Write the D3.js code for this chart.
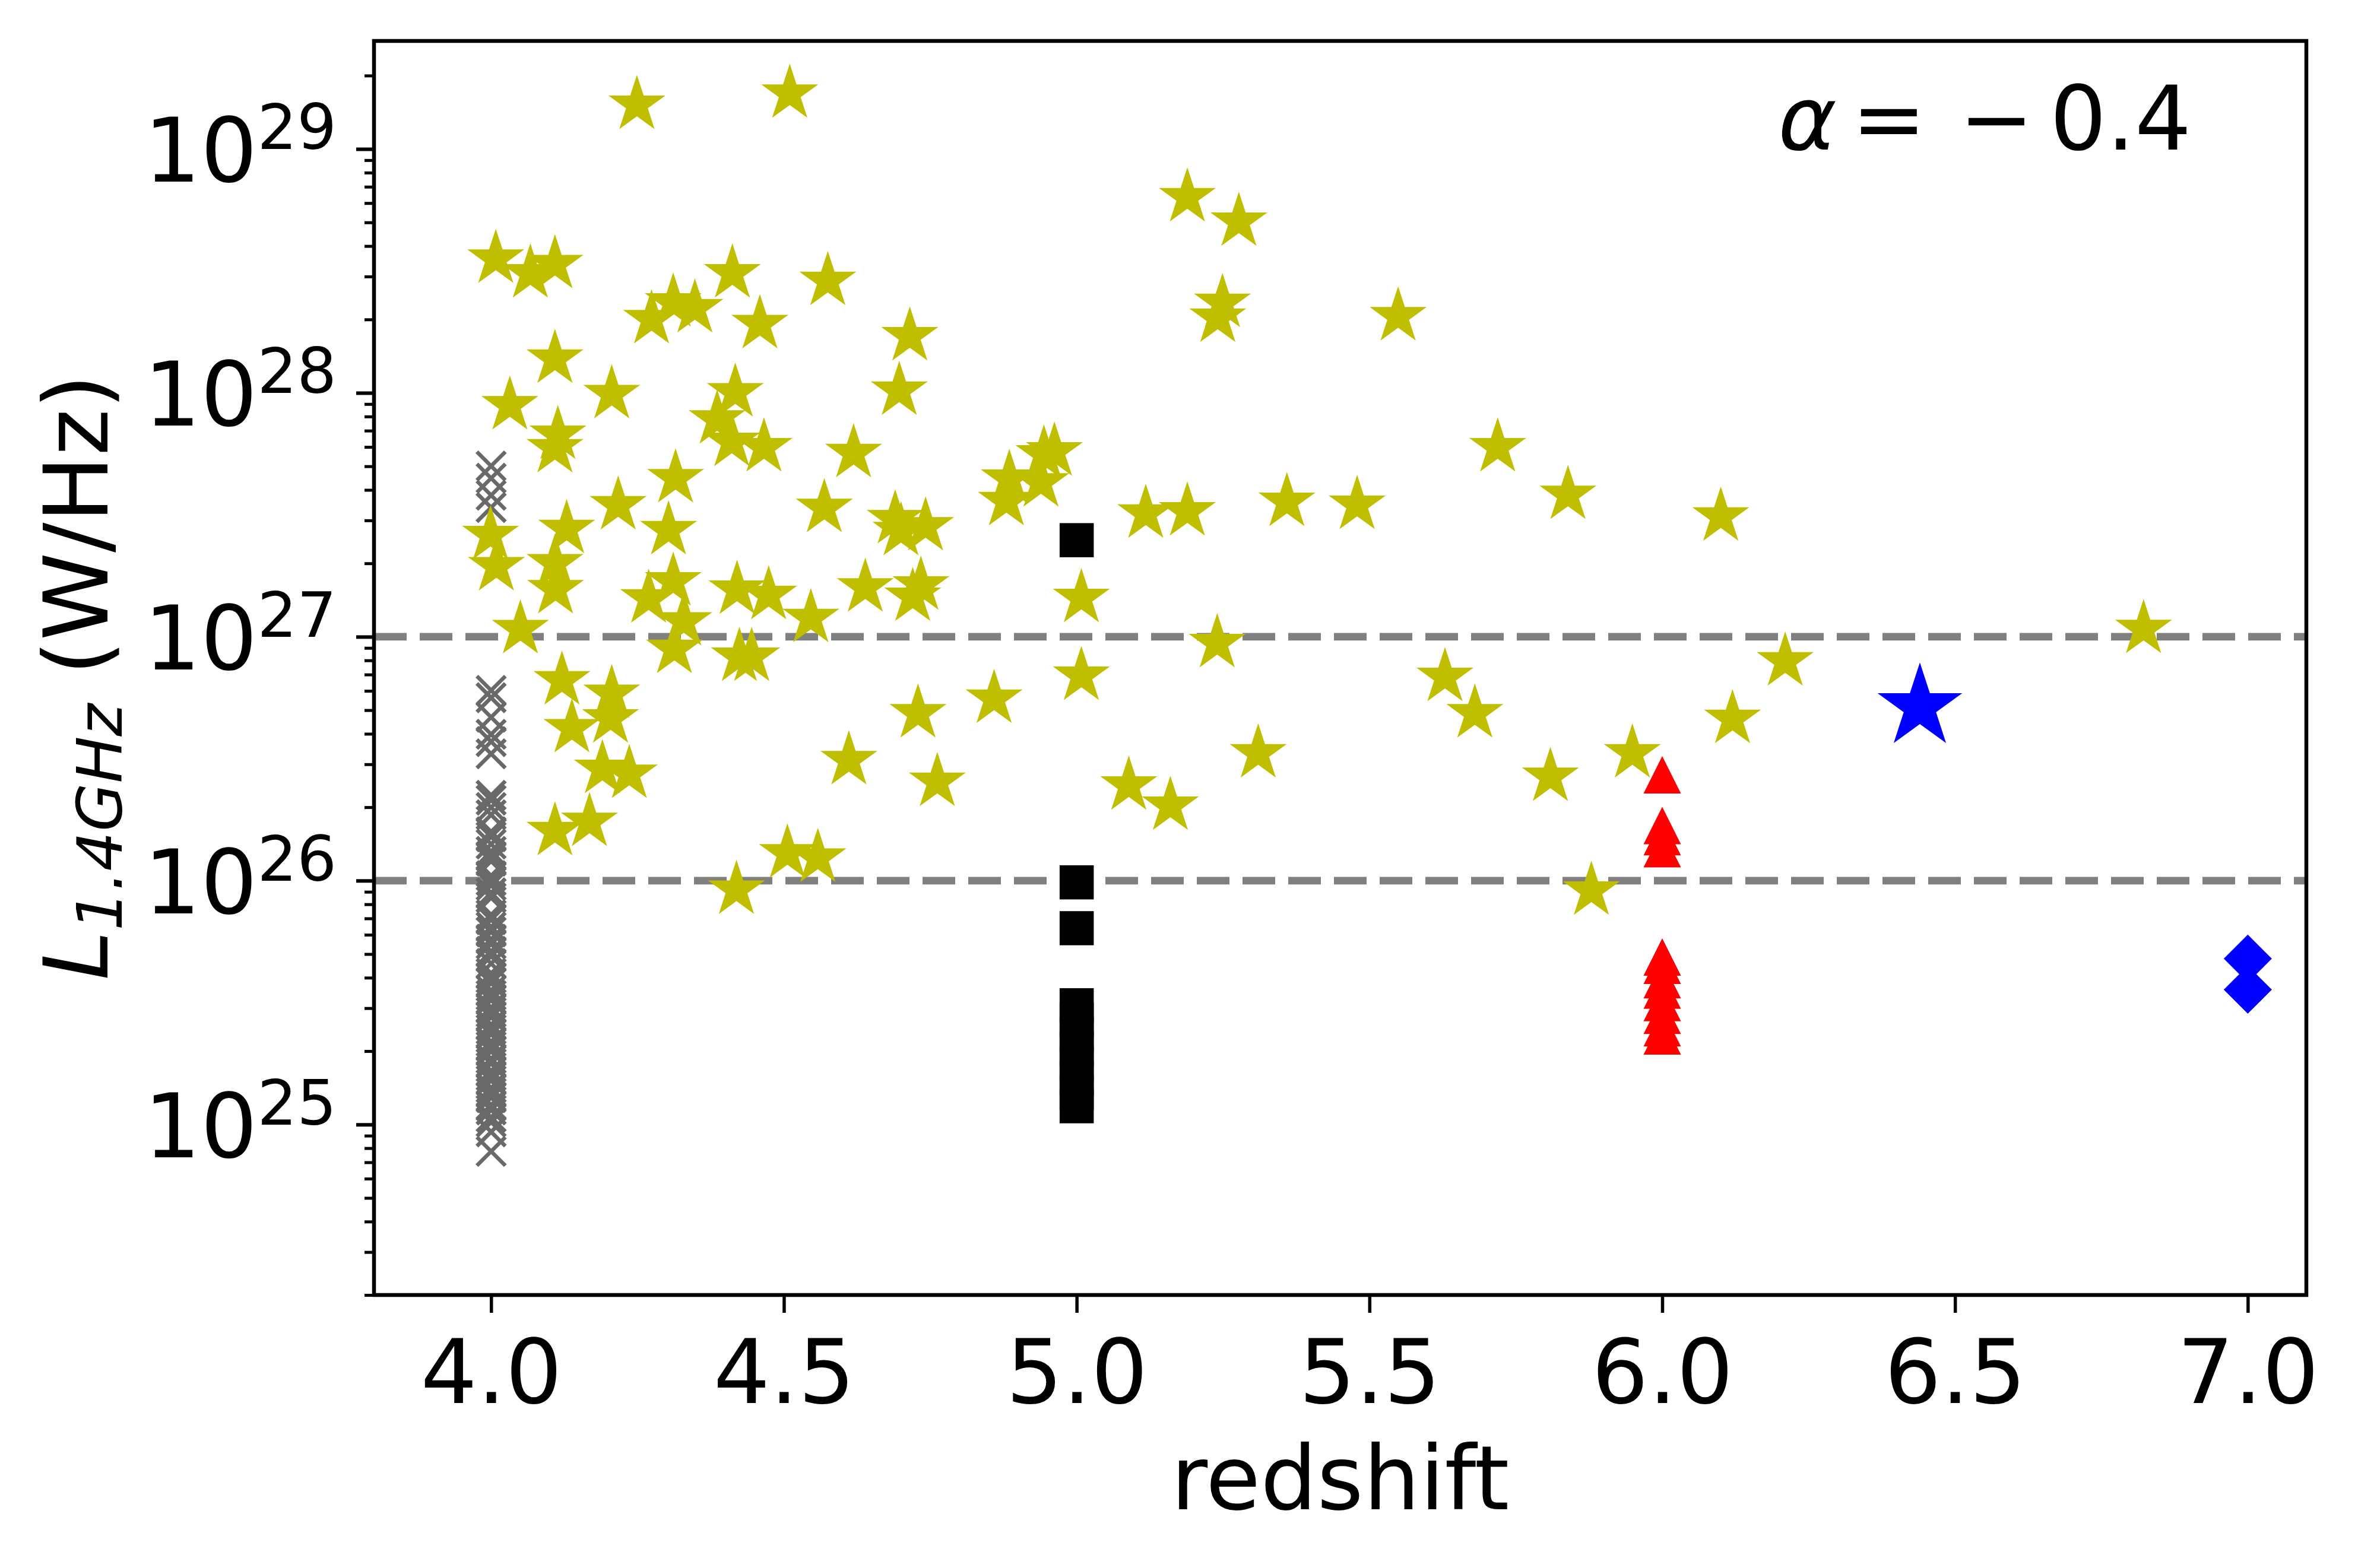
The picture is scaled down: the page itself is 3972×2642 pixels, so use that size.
<!DOCTYPE html>
<html>
<head>
<meta charset="utf-8">
<script src="https://cdn.jsdelivr.net/npm/d3@7"></script>
<style>
  body { margin: 0; background: #fff; }
  svg text { font-family: 'DejaVu Sans', sans-serif; fill: #000; }
</style>
</head>
<body>
<div id="chart"></div>
<script>
// values: [redshift, log10 L(1.4GHz) in W/Hz]
const yellowStars = [
    [4.249, 29.181], [4.510, 29.227], [4.008, 28.550], [4.067, 28.490], [4.109, 28.528],
    [4.311, 28.371], [4.274, 28.302], [4.348, 28.347], [4.412, 28.490], [4.459, 28.282],
    [4.575, 28.459], [4.715, 28.232], [4.697, 28.009], [4.109, 28.140], [4.206, 27.995],
    [4.032, 27.949], [4.417, 28.002], [4.386, 27.891], [4.411, 27.799], [4.466, 27.777],
    [4.114, 27.828], [4.109, 27.773], [4.619, 27.753], [4.315, 27.650], [4.217, 27.539],
    [4.303, 27.437], [4.569, 27.528], [4.690, 27.482], [4.742, 27.453], [4.700, 27.433],
    [4.885, 27.648], [4.880, 27.556], [4.129, 27.442], [3.999, 27.417], [4.009, 27.289],
    [4.109, 27.301], [4.110, 27.195], [4.050, 27.031], [4.311, 27.227], [4.269, 27.157],
    [4.329, 27.063], [4.313, 26.950], [4.420, 27.193], [4.474, 27.171], [4.546, 27.077],
    [4.639, 27.202], [4.734, 27.210], [4.720, 27.164], [4.424, 26.918], [4.445, 26.918],
    [4.121, 26.821], [4.206, 26.766], [4.859, 26.746], [4.729, 26.686], [4.138, 26.625],
    [4.204, 26.665], [4.190, 26.458], [4.236, 26.438], [4.109, 26.203], [4.168, 26.241],
    [4.419, 25.963], [4.506, 26.112], [4.558, 26.094], [4.611, 26.494], [4.762, 26.405],
    [5.189, 28.802], [5.277, 28.702], [5.249, 28.369], [5.241, 28.308], [5.549, 28.314],
    [5.719, 27.777], [5.839, 27.582], [5.359, 27.553], [5.479, 27.541], [5.118, 27.505],
    [5.189, 27.514], [4.962, 27.760], [4.944, 27.748], [4.939, 27.633], [5.008, 27.159],
    [5.240, 26.974], [5.008, 26.840], [5.629, 26.835], [5.680, 26.686], [5.089, 26.390],
    [5.160, 26.307], [5.310, 26.522], [5.809, 26.426], [5.949, 26.522], [5.879, 25.959],
    [6.100, 27.493], [6.822, 27.032], [6.210, 26.899], [6.120, 26.663]
];

const grayZ = 4.0;
const grayLogL = [
    27.70, 27.65, 27.58, 27.53,
    26.78, 26.75, 26.67, 26.60, 26.57, 26.52, 26.35, 26.33, 26.30, 26.27,
    26.20, 26.18, 26.15, 26.12, 26.10, 26.08, 26.02, 26.00, 25.98, 25.95,
    25.93, 25.86, 25.84, 25.81, 25.79, 25.76, 25.74, 25.71, 25.69, 25.66,
    25.62, 25.60, 25.58, 25.55, 25.53, 25.51, 25.48, 25.46, 25.44, 25.41,
    25.39, 25.37, 25.34, 25.32, 25.30, 25.27, 25.25, 25.22, 25.20, 25.18,
    25.15, 25.13, 25.11, 25.08, 25.06, 25.03, 25.01, 24.97, 24.89
];

const blackZ = 5.0;
const blackLogL = [27.396, 25.993, 25.805, 25.489, 25.43, 25.37, 25.31, 25.25, 25.19, 25.13, 25.075];

const redZ = 6.0;
const redLogL = [26.434, 26.226, 26.18, 26.131, 25.687, 25.653, 25.594, 25.551, 25.500, 25.448, 25.397, 25.363];

const blueStars = [[6.440, 26.712]];
const blueDiamonds = [[7.0, 25.680], [7.0, 25.553]];

const refLinesLogL = [27, 26];
const xTicks = [4.0, 4.5, 5.0, 5.5, 6.0, 6.5, 7.0];
const yMajorExp = [25, 26, 27, 28, 29];
const xLimits = [3.8, 7.1];
const yLimits = [2e24, Math.pow(10, 29.443)];

const width = 3972, height = 2642;
const plotLeft = 630, plotRight = 3885, plotTop = 69, plotBottom = 2182;

const svg = d3.select('#chart').append('svg')
    .attr('width', width)
    .attr('height', height)
    .style('display', 'block');

svg.append('rect').attr('width', width).attr('height', height).attr('fill', '#fff');

const x = d3.scaleLinear().domain(xLimits).range([plotLeft, plotRight]);
const y = d3.scaleLog().domain(yLimits).range([plotBottom, plotTop]);
const yv = e => y(Math.pow(10, e));

// marker shapes
function starPath(r) {
    const p = d3.path();
    for (let i = 0; i < 10; i++) {
        const rad = i % 2 ? r * 0.381966 : r;
        const a = -Math.PI / 2 + i * Math.PI / 5;
        if (i === 0) p.moveTo(rad * Math.cos(a), rad * Math.sin(a));
        else p.lineTo(rad * Math.cos(a), rad * Math.sin(a));
    }
    p.closePath();
    return p.toString();
}
function trianglePath(h) {
    const p = d3.path();
    p.moveTo(0, -h / 2); p.lineTo(h / 2, h / 2); p.lineTo(-h / 2, h / 2); p.closePath();
    return p.toString();
}
function diamondPath(a) {
    const p = d3.path();
    p.moveTo(0, -a); p.lineTo(a, 0); p.lineTo(0, a); p.lineTo(-a, 0); p.closePath();
    return p.toString();
}
function crossPath(a) {
    return `M${-a},${-a}L${a},${a}M${-a},${a}L${a},${-a}`;
}

// reference lines
svg.append('g')
    .selectAll('line')
    .data(refLinesLogL)
    .join('line')
    .attr('x1', plotLeft).attr('x2', plotRight)
    .attr('y1', d => yv(d)).attr('y2', d => yv(d))
    .attr('stroke', '#808080')
    .attr('stroke-width', 12.6)
    .attr('stroke-dasharray', '55 22');

// gray crosses at z = 4
svg.append('g')
    .selectAll('path')
    .data(grayLogL)
    .join('path')
    .attr('d', crossPath(24))
    .attr('transform', d => `translate(${x(grayZ)},${yv(d)})`)
    .attr('fill', 'none')
    .attr('stroke', '#696969')
    .attr('stroke-width', 6.5);

// black squares at z = 5
svg.append('g')
    .selectAll('rect')
    .data(blackLogL)
    .join('rect')
    .attr('x', x(blackZ) - 28.75)
    .attr('y', d => yv(d) - 28.75)
    .attr('width', 57.5).attr('height', 57.5)
    .attr('fill', '#000');

// red triangles at z = 6
svg.append('g')
    .selectAll('path')
    .data(redLogL)
    .join('path')
    .attr('d', trianglePath(63))
    .attr('transform', d => `translate(${x(redZ)},${yv(d)})`)
    .attr('fill', '#ff0000');

// yellow stars
svg.append('g')
    .selectAll('path')
    .data(yellowStars)
    .join('path')
    .attr('d', starPath(50.5))
    .attr('transform', d => `translate(${x(d[0])},${yv(d[1])})`)
    .attr('fill', '#bfbf00');

// blue star
svg.append('g')
    .selectAll('path')
    .data(blueStars)
    .join('path')
    .attr('d', starPath(75))
    .attr('transform', d => `translate(${x(d[0])},${yv(d[1])})`)
    .attr('fill', '#0000ff');

// blue diamonds
svg.append('g')
    .selectAll('path')
    .data(blueDiamonds)
    .join('path')
    .attr('d', diamondPath(40.5))
    .attr('transform', d => `translate(${x(d[0])},${yv(d[1])})`)
    .attr('fill', '#0000ff');

// x axis
const xAxis = d3.axisBottom(x)
    .tickValues(xTicks)
    .tickSize(30)
    .tickFormat(d3.format('.1f'));

const gx = svg.append('g')
    .attr('transform', `translate(0,${plotBottom})`)
    .call(xAxis);
gx.select('.domain').remove();
gx.selectAll('.tick line').attr('stroke', '#000').attr('stroke-width', 5.5);
gx.selectAll('.tick text')
    .attr('y', 182).attr('dy', 0)
    .attr('font-size', 150)
    .attr('font-family', "'DejaVu Sans', sans-serif")
    .attr('fill', '#000');

// y axis, major and minor ticks
const yMinor = [];
for (let e = 24; e <= 29; e++) {
    for (let m = 2; m <= 9; m++) {
        const v = m * Math.pow(10, e);
        if (v >= yLimits[0] * 0.999 && v <= yLimits[1]) yMinor.push(v);
    }
}
const gyMinor = svg.append('g')
    .attr('transform', `translate(${plotLeft},0)`)
    .call(d3.axisLeft(y).tickValues(yMinor).tickSize(16).tickFormat(''));
gyMinor.select('.domain').remove();
gyMinor.selectAll('.tick line').attr('stroke', '#000').attr('stroke-width', 5);

const gyMajor = svg.append('g')
    .attr('transform', `translate(${plotLeft},0)`)
    .call(d3.axisLeft(y).tickValues(yMajorExp.map(e => Math.pow(10, e))).tickSize(30).tickFormat(''));
gyMajor.select('.domain').remove();
gyMajor.selectAll('.tick line').attr('stroke', '#000').attr('stroke-width', 6);

const yLabels = svg.append('g')
    .selectAll('text')
    .data(yMajorExp)
    .join('text')
    .attr('x', 567)
    .attr('y', d => yv(d) + 55)
    .attr('text-anchor', 'end')
    .attr('font-size', 150);
yLabels.append('tspan').text('10');
yLabels.append('tspan')
    .attr('dy', -55)
    .attr('font-size', 105)
    .text(d => d);

// axis titles
svg.append('text')
    .attr('x', (plotLeft + plotRight) / 2)
    .attr('y', 2543)
    .attr('text-anchor', 'middle')
    .attr('font-size', 150)
    .text('redshift');

const yTitle = svg.append('text')
    .attr('transform', 'translate(181,1141) rotate(-90)')
    .attr('text-anchor', 'middle')
    .attr('font-size', 150);
yTitle.append('tspan').attr('font-style', 'italic').text('L');
yTitle.append('tspan').attr('font-style', 'italic').attr('font-size', 105).attr('dy', 24).text('1.4GHz');
yTitle.append('tspan').attr('dy', -24).text('\u00a0(W/Hz)');

// annotation
const note = svg.append('text')
    .attr('y', 252)
    .attr('font-size', 150);
note.append('tspan').attr('x', 2995).attr('font-style', 'italic').text('\u03b1');
note.append('tspan').attr('x', 3119).text('=');
note.append('tspan').attr('x', 3300).text('\u2212');
note.append('tspan').attr('x', 3453).text('0.4');

// frame
svg.append('rect')
    .attr('x', plotLeft).attr('y', plotTop)
    .attr('width', plotRight - plotLeft).attr('height', plotBottom - plotTop)
    .attr('fill', 'none')
    .attr('stroke', '#000')
    .attr('stroke-width', 6.5);
</script>
</body>
</html>
